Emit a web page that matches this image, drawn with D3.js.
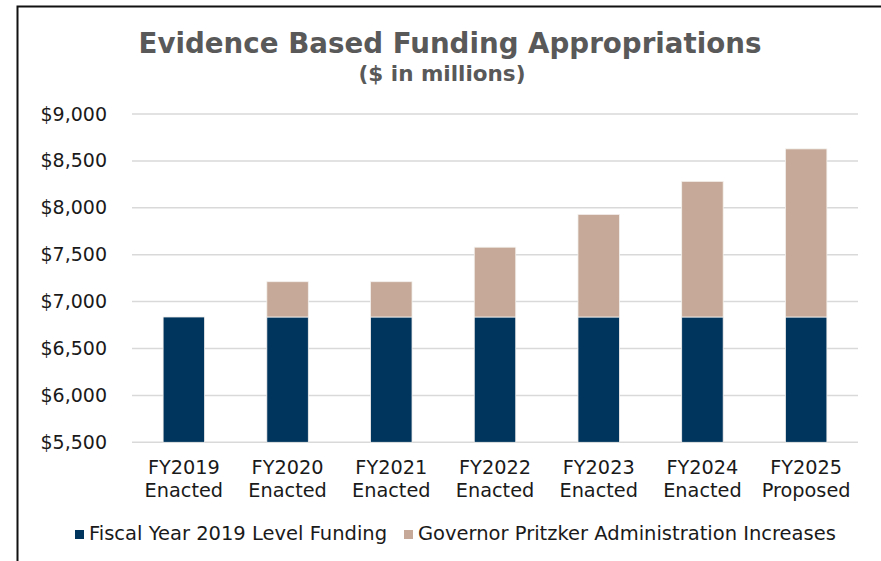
<!DOCTYPE html>
<html>
<head>
  <meta charset="utf-8">
  <title>Evidence Based Funding Appropriations</title>
  <script src="https://d3js.org/d3.v7.min.js"></script>
  <style>
    body { margin: 0; background: #fff; }
    text { font-family: "DejaVu Sans", sans-serif; }
    .grid line { stroke: #d9d9d9; stroke-width: 1.5px; }
  </style>
</head>
<body>
<div id="chart"></div>
<script>

  // values ($ in millions)
  var years = ["FY2019", "FY2020", "FY2021", "FY2022", "FY2023", "FY2024", "FY2025"];
  var yearStatus = ["Enacted", "Enacted", "Enacted", "Enacted", "Enacted", "Enacted", "Proposed"];
  var baseFunding = [6836, 6836, 6836, 6836, 6836, 6836, 6836];
  var increases = [0, 376, 376, 744, 1094, 1446, 1792];
  var seriesNames = ["Fiscal Year 2019 Level Funding", "Governor Pritzker Administration Increases"];
  var seriesColors = ["#00355e", "#c6a998"];
  var yTicks = [5500, 6000, 6500, 7000, 7500, 8000, 8500, 9000];

  var width = 881, height = 561;

  var svg = d3.select("#chart").append("svg")
    .attr("width", width).attr("height", height);

  //frame, cut by the picture on the right and bottom
  svg.append("rect")
    .attr("x", 17.5).attr("y", 6.5).attr("width", 1000).attr("height", 1000)
    .attr("fill", "none").attr("stroke", "#111").attr("stroke-width", 2);

  //title
  svg.append("text")
    .attr("x", 450).attr("y", 53)
    .attr("text-anchor", "middle")
    .attr("font-size", 27.7).attr("font-weight", "bold")
    .attr("fill", "#595959")
    .text("Evidence Based Funding Appropriations");
  svg.append("text")
    .attr("x", 442).attr("y", 81)
    .attr("text-anchor", "middle")
    .attr("font-size", 21.5).attr("font-weight", "bold")
    .attr("fill", "#595959")
    .text("($ in millions)");

  var x = d3.scaleBand().domain(years).range([132, 858])
    .paddingInner(0.6).paddingOuter(0.3);
  var y = d3.scaleLinear().domain([5500, 9000]).range([442.3, 114]);

  //gridlines
  svg.append("g").attr("class", "grid")
    .selectAll("line").data(yTicks).enter().append("line")
    .attr("x1", 132).attr("x2", 858)
    .attr("y1", function(d) { return y(d); }).attr("y2", function(d) { return y(d); });

  //y axis labels
  var yAxis = d3.axisLeft(y).tickValues(yTicks).tickSize(0).tickPadding(0)
    .tickFormat(function(d) { return "$" + d3.format(",")(d); });
  var ga = svg.append("g").attr("transform", "translate(107,0)").call(yAxis);
  ga.select(".domain").remove();
  ga.selectAll("text").attr("font-size", 19).attr("fill", "#1a1a1a")
    .attr("font-family", "DejaVu Sans, sans-serif");

  //stacked bars
  var rows = years.map(function(yr, i) { return { year: yr, base: baseFunding[i], inc: increases[i] }; });
  var stack = d3.stack().keys(["base", "inc"]);
  var layers = stack(rows);

  svg.selectAll(".layer").data(layers).enter().append("g")
    .attr("class", "layer")
    .attr("fill", function(d, i) { return seriesColors[i]; })
    .selectAll("rect").data(function(d) { return d; }).enter()
    .filter(function(d) { return d[1] > d[0]; })
    .append("rect")
    .attr("x", function(d) { return x(d.data.year); })
    .attr("width", x.bandwidth())
    .attr("y", function(d) { return y(Math.min(d[1], 9000)); })
    .attr("height", function(d) { return y(Math.max(d[0], 5500)) - y(d[1]); })
    .attr("stroke", "#f4f1ee").attr("stroke-width", 0.8);

  //category labels, two lines
  var cat = svg.append("g").selectAll("text").data(years).enter().append("text")
    .attr("text-anchor", "middle")
    .attr("font-size", 19.3).attr("fill", "#1a1a1a");
  cat.append("tspan")
    .attr("x", function(d) { return x(d) + x.bandwidth() / 2; })
    .attr("y", 474).text(function(d) { return d; });
  cat.append("tspan")
    .attr("x", function(d) { return x(d) + x.bandwidth() / 2; })
    .attr("y", 497)
    .text(function(d) { return yearStatus[years.indexOf(d)]; });

  //legend
  var legendX = [75, 404];
  var leg = svg.append("g").selectAll("g").data(seriesNames).enter().append("g")
    .attr("transform", function(d, i) { return "translate(" + legendX[i] + ",530)"; });
  leg.append("rect").attr("width", 9).attr("height", 9)
    .attr("fill", function(d, i) { return seriesColors[i]; });
  leg.append("text").attr("x", 14).attr("y", 10)
    .attr("font-size", 19.5).attr("fill", "#1a1a1a")
    .text(function(d) { return d; });

</script>
</body>
</html>
